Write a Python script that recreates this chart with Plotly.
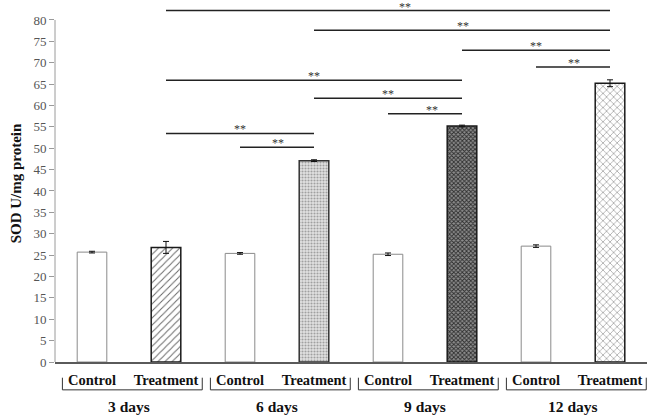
import plotly.graph_objects as go

# ---- data ----
groups = ["3 days", "6 days", "9 days", "12 days"]
conditions = ["Control", "Treatment"]
values = [25.7, 26.8, 25.4, 47.1, 25.2, 55.2, 27.1, 65.2]
errors = [0.2, 1.4, 0.2, 0.2, 0.3, 0.2, 0.3, 0.8]

# significance comparisons: bar index from, bar index to, line level, star x
comp_from = [1, 3, 5, 6, 1, 3, 4, 1, 2]
comp_to = [7, 7, 7, 7, 5, 5, 5, 3, 3]
comp_level = [82.2, 77.6, 72.9, 69.0, 65.9, 61.7, 58.05, 53.45, 50.2]
comp_star_x = [4.23, 5.01, 6.0, 6.51, 3.0, 4.0, 4.59, 2.0, 2.51]
comp_label = ["**"] * 9

y_ticks = list(range(0, 81, 5))

# ---- styles ----
FONT = "Liberation Serif"
pattern_shape = ["", "/", "", ".", "", "x", "", "x"]
pattern_fg = ["#000000", "#6a6a6a", "#000000", "#a0a0a0", "#000000", "#2e2e2e", "#000000", "#6a6a6a"]
pattern_bg = ["#ffffff", "#ffffff", "#ffffff", "#e2e2e2", "#ffffff", "#8e8e8e", "#ffffff", "#ffffff"]
pattern_size = [6, 5, 6, 3, 6, 3, 6, 5]
pattern_solid = [0.3, 0.2, 0.3, 0.4, 0.3, 0.5, 0.3, 0.18]
line_col = ["#8a8a8a", "#1a1a1a", "#8a8a8a", "#333333", "#8a8a8a", "#1a1a1a", "#8a8a8a", "#1a1a1a"]
line_w = [1, 1.5, 1, 1.5, 1, 1.5, 1, 1.5]

xpos = list(range(len(values)))
ticktext = ["<b>%s</b>" % conditions[i % 2] for i in xpos]

fig = go.Figure()
for i in xpos:
    pat = dict(shape=pattern_shape[i], fgcolor=pattern_fg[i], bgcolor=pattern_bg[i],
               size=pattern_size[i], solidity=pattern_solid[i], fillmode="replace")
    fig.add_trace(go.Bar(
        x=[xpos[i]], y=[values[i]], width=0.4,
        marker=dict(color=pattern_bg[i], line=dict(color=line_col[i], width=line_w[i]), pattern=pat),
        error_y=dict(type="data", array=[errors[i]], color="#111", thickness=1, width=3),
        showlegend=False, hoverinfo="skip",
    ))

shapes = []
annotations = []
# significance lines
for a, b, lv, sx, lab in zip(comp_from, comp_to, comp_level, comp_star_x, comp_label):
    shapes.append(dict(type="line", xref="x", yref="y", x0=a, x1=b, y0=lv, y1=lv,
                       line=dict(color="#222", width=1.5)))
    annotations.append(dict(x=sx, y=lv, xref="x", yref="y", text=lab, showarrow=False,
                            yanchor="middle", yshift=4, height=8, borderpad=0,
                            font=dict(family=FONT, size=12, color="#333")))

# y axis line only up to 80
shapes.append(dict(type="line", xref="paper", yref="y", x0=0, x1=0, y0=0, y1=y_ticks[-1],
                   line=dict(color="#9a9a9a", width=1)))

# group brackets and labels
for g, name in enumerate(groups):
    x0 = 2 * g - 0.4
    x1 = 2 * g + 1.49
    shapes.append(dict(type="path", xref="x", yref="paper",
                       path="M %f,-0.044 L %f,-0.078 L %f,-0.078 L %f,-0.044" % (x0, x0, x1, x1),
                       line=dict(color="#333", width=1)))
    annotations.append(dict(x=2 * g + 0.5, y=-0.125, xref="x", yref="paper", text="<b>%s</b>" % name,
                            showarrow=False, yanchor="middle",
                            font=dict(family=FONT, size=15.5, color="#111")))

fig.update_layout(
    width=654, height=417,
    margin=dict(l=55, r=7, t=5, b=55),
    paper_bgcolor="white", plot_bgcolor="white",
    barmode="overlay",
    shapes=shapes, annotations=annotations,
    xaxis=dict(range=[-0.5, 7.5], tickvals=xpos, ticktext=ticktext, showgrid=False, zeroline=False,
               showline=True, linecolor="#5a5a5a", linewidth=1.5, ticks="",
               tickfont=dict(family=FONT, size=14.5, color="#111"), ticklabelstandoff=4,
               automargin=False),
    yaxis=dict(range=[0, 83.5], tickvals=y_ticks, showgrid=False, zeroline=False, showline=False,
               ticks="outside", ticklen=5, tickcolor="#9a9a9a", tickwidth=1,
               tickfont=dict(family=FONT, size=13, color="#555"),
               title=dict(text="<b>SOD U/mg protein</b>", font=dict(family=FONT, size=15, color="#111"),
                          standoff=8),
               automargin=False),
)

fig.write_html("out.html", config={"displayModeBar": False},
               post_script="document.body.style.margin='0';document.body.style.overflow='hidden';")
